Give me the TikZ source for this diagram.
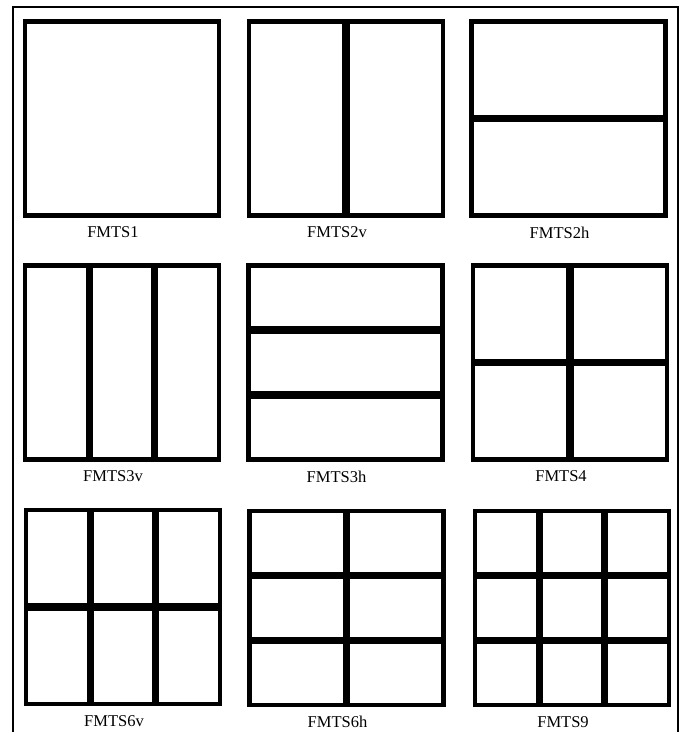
\documentclass[tikz,border=0pt]{standalone}
\usepackage{fontspec}
\setmainfont{Liberation Serif}
\usetikzlibrary{positioning, calc}

\begin{document}
\begin{tikzpicture}[x=1pt, y=-1pt, node distance=11pt,
    box/.style={draw, line width=4.5pt, minimum width=194pt, minimum height=194pt, inner sep=0pt, outer sep=0pt},
    divider/.style={line width=7.5pt},
    caption/.style={font=\fontsize{16.5}{16.5}\selectfont, inner sep=0pt, xshift=-9pt}]
        \useasboundingbox (0,0) rectangle (688,732);
        % Frame
        \coordinate (frameBL) at (12.5,732);
        \coordinate (frameTL) at (12.5,7.3);
        \coordinate (frameTR) at (678,7.3);
        \coordinate (frameBR) at (678,732);
        \draw[line width=2pt] (frameBL) -- (frameTL) -- (frameTR) -- (frameBR);
        % Boxes
        \node[box] (fmts1) at (122,118.5) {};
        \node[box] (fmts2v) at (346,118.5) {};
        \node[box] (fmts2h) at (568.5,118.5) {};
        \node[box] (fmts3v) at (122,362.5) {};
        \node[box] (fmts3h) at (345.5,362.5) {};
        \node[box] (fmts4) at (570,362.5) {};
        \node[box] (fmts6v) at (123,607) {};
        \node[box] (fmts6h) at (346.5,608) {};
        \node[box] (fmts9) at (572,608) {};
        % Dividers
        \draw[divider] (fmts2v.north) -- (fmts2v.south);
        \draw[divider] (fmts2h.west) -- (fmts2h.east);
        \draw[divider] ($(fmts3v.north west)!1/3!(fmts3v.north east)$) -- ($(fmts3v.south west)!1/3!(fmts3v.south east)$);
        \draw[divider] ($(fmts3v.north west)!2/3!(fmts3v.north east)$) -- ($(fmts3v.south west)!2/3!(fmts3v.south east)$);
        \draw[divider] ($(fmts3h.north west)!1/3!(fmts3h.south west)$) -- ($(fmts3h.north east)!1/3!(fmts3h.south east)$);
        \draw[divider] ($(fmts3h.north west)!2/3!(fmts3h.south west)$) -- ($(fmts3h.north east)!2/3!(fmts3h.south east)$);
        \draw[divider] (fmts4.north) -- (fmts4.south);
        \draw[divider] (fmts4.west) -- (fmts4.east);
        \draw[divider] ($(fmts6v.north west)!1/3!(fmts6v.north east)$) -- ($(fmts6v.south west)!1/3!(fmts6v.south east)$);
        \draw[divider] ($(fmts6v.north west)!2/3!(fmts6v.north east)$) -- ($(fmts6v.south west)!2/3!(fmts6v.south east)$);
        \draw[divider] (fmts6v.west) -- (fmts6v.east);
        \draw[divider] (fmts6h.north) -- (fmts6h.south);
        \draw[divider] ($(fmts6h.north west)!1/3!(fmts6h.south west)$) -- ($(fmts6h.north east)!1/3!(fmts6h.south east)$);
        \draw[divider] ($(fmts6h.north west)!2/3!(fmts6h.south west)$) -- ($(fmts6h.north east)!2/3!(fmts6h.south east)$);
        \draw[divider] ($(fmts9.north west)!1/3!(fmts9.north east)$) -- ($(fmts9.south west)!1/3!(fmts9.south east)$);
        \draw[divider] ($(fmts9.north west)!2/3!(fmts9.north east)$) -- ($(fmts9.south west)!2/3!(fmts9.south east)$);
        \draw[divider] ($(fmts9.north west)!1/3!(fmts9.south west)$) -- ($(fmts9.north east)!1/3!(fmts9.south east)$);
        \draw[divider] ($(fmts9.north west)!2/3!(fmts9.south west)$) -- ($(fmts9.north east)!2/3!(fmts9.south east)$);
        % Captions
        \node[caption, below=of fmts1] (cap1) {FMTS1};
        \node[caption, below=of fmts2v] (cap2v) {FMTS2v};
        \node[caption, below=of fmts2h] (cap2h) {FMTS2h};
        \node[caption, below=of fmts3v] (cap3v) {FMTS3v};
        \node[caption, below=of fmts3h] (cap3h) {FMTS3h};
        \node[caption, below=of fmts4] (cap4) {FMTS4};
        \node[caption, below=of fmts6v] (cap6v) {FMTS6v};
        \node[caption, below=of fmts6h] (cap6h) {FMTS6h};
        \node[caption, below=of fmts9] (cap9) {FMTS9};
    \end{tikzpicture}
\end{document}
